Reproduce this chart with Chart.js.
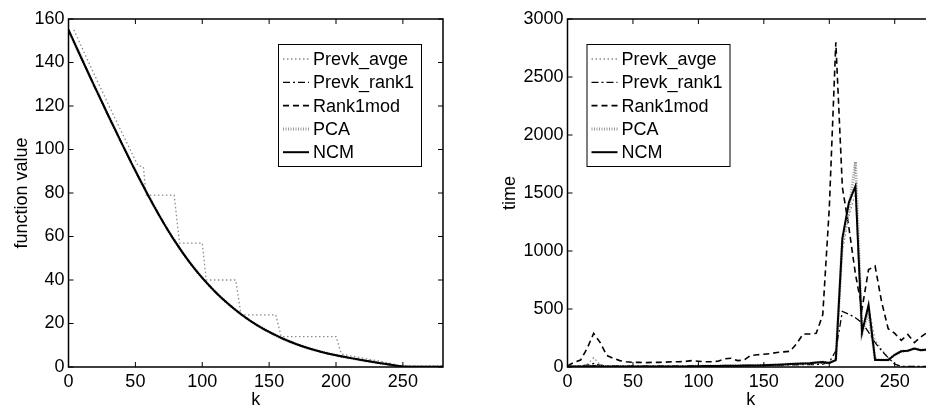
<!DOCTYPE html>
<html>
<head>
<meta charset="utf-8">
<script src="https://cdn.jsdelivr.net/npm/chart.js@4.4.1/dist/chart.umd.min.js"></script>
<style>
  html, body { margin: 0; padding: 0; background: #fff; overflow: hidden; width: 926px; height: 405px; }
  #left { position: absolute; left: 0; top: 0; }
  #right { position: absolute; left: 463px; top: 0; }
</style>
</head>
<body>
<canvas id="left" width="463" height="405"></canvas>
<canvas id="right" width="480" height="405"></canvas>
<script>
// Left panel: function value vs k
const leftK = [0, 10, 20, 30, 40, 50, 60, 70, 80, 90, 100, 110, 120, 130, 140, 150, 160, 170, 180, 190, 200, 210, 220, 230, 240, 250, 260, 270, 280];
const ncmLeft = [155, 141.5, 128.3, 115.3, 102.6, 90.2, 78.4, 67.4, 57.4, 48.6, 41, 34.4, 28.7, 23.8, 19.6, 16.1, 13.1, 10.6, 8.5, 6.8, 5.4, 4.2, 3.1, 2.1, 1.1, 0.2, 0.1, 0.1, 0.1];
// staircase of Prevk_avge
const stairK = [4, 14, 24, 34, 44, 52, 56, 58, 79, 83, 100, 103, 125, 129, 155, 159, 200, 204, 210, 220, 230, 240, 248, 280];
const stairV = [155, 141.5, 128.3, 115.3, 102.6, 92.5, 92, 79, 79, 57, 57, 40, 40, 24, 24, 14, 14, 6, 5.2, 4.1, 3, 1.8, 0.5, 0.5];

// Right panel: time vs k
const rightK = [0, 5, 10, 15, 20, 25, 30, 35, 40, 45, 50, 55, 60, 65, 70, 75, 80, 85, 90, 95,
  100, 105, 110, 115, 120, 125, 130, 135, 140, 145, 150, 155, 160, 165, 170, 175, 180, 185, 190, 195,
  200, 205, 210, 215, 220, 225, 230, 235, 240, 245, 250, 255, 260, 265, 270, 275, 280];
const avgeRight = [3, 3, 5, 20, 80, 20, 5, 5, 5, 5, 5, 5, 5, 5, 5, 5, 5, 5, 5, 5,
  6, 6, 7, 7, 8, 8, 9, 9, 10, 10, 12, 13, 15, 17, 20, 22, 25, 28, 30, 32,
  40, 60, 1000, 1300, 1500, 290, 520, 230, 150, 80, 25, 5, 5, 5, 5, 5, 5];
const rank1Right = [5, 5, 10, 15, 30, 15, 10, 10, 10, 10, 10, 10, 10, 10, 10, 10, 10, 10, 10, 10,
  10, 10, 10, 11, 11, 12, 12, 13, 13, 14, 15, 15, 16, 17, 18, 19, 20, 21, 22, 25,
  40, 140, 480, 455, 425, 380, 300, 210, 140, 80, 25, 5, 5, 5, 5, 5, 5];
const rank1modRight = [10, 40, 60, 160, 290, 210, 100, 75, 55, 45, 40, 40, 38, 40, 40, 42, 45, 45, 48, 55,
  50, 45, 45, 50, 70, 75, 55, 60, 100, 105, 110, 115, 125, 130, 135, 200, 285, 285, 290, 450,
  1370, 2800, 1550, 1200, 800, 500, 840, 870, 560, 330, 290, 230, 280, 210, 260, 300, 380];
const pcaRight = [5, 5, 5, 5, 8, 5, 5, 5, 5, 5, 5, 5, 5, 5, 5, 5, 5, 5, 5, 6,
  7, 8, 8, 9, 10, 10, 11, 12, 13, 14, 15, 17, 20, 22, 25, 27, 30, 32, 38, 42,
  35, 60, 1080, 1350, 1770, 290, 470, 70, 60, 60, 105, 135, 140, 160, 145, 150, 160];
const ncmRight = [5, 5, 5, 5, 8, 5, 5, 5, 5, 5, 5, 5, 5, 5, 5, 5, 5, 5, 5, 6,
  7, 8, 8, 9, 10, 10, 11, 12, 13, 14, 15, 17, 20, 22, 25, 27, 30, 32, 38, 42,
  35, 60, 1110, 1420, 1560, 300, 535, 60, 60, 60, 105, 135, 140, 160, 145, 150, 160];

const xTicks = [0, 50, 100, 150, 200, 250];

const FONT = '"Liberation Sans", Arial, Helvetica, sans-serif';
const FSIZE = 18;
Chart.defaults.color = '#000';
Chart.defaults.font.family = FONT;
Chart.defaults.font.size = FSIZE;

const pts = (ks, vs) => ks.map((k, i) => ({ x: k, y: vs[i] }));

// line styles, MATLAB-like
const styles = {
  avge:     { borderColor: '#8c8c8c', borderWidth: 1.3, borderDash: [1.5, 2.5] },
  rank1:    { borderColor: '#000', borderWidth: 1.3, borderDash: [7, 3, 2, 3] },
  rank1mod: { borderColor: '#000', borderWidth: 1.6, borderDash: [6, 4] },
  pca:      { borderColor: '#999', borderWidth: 3, borderDash: [1, 1.5] },
  ncm:      { borderColor: '#000', borderWidth: 2, borderDash: [] }
};

function makeSet(label, style, data, order, smooth) {
  return Object.assign({
    label: label,
    data: data,
    pointRadius: 0,
    fill: false,
    tension: 0,
    cubicInterpolationMode: smooth ? 'monotone' : 'default',
    order: order
  }, style);
}

// frame with inward ticks on all sides, plus a boxed legend inside the axes
const axisFrame = {
  id: 'axisFrame',
  afterDatasetsDraw(chart, args, opts) {
    const ctx = chart.ctx;
    const a = chart.chartArea;
    const x = chart.scales.x, y = chart.scales.y;
    ctx.save();
    ctx.strokeStyle = '#000';
    ctx.lineWidth = 1.5;
    ctx.strokeRect(a.left, a.top, a.right - a.left, a.bottom - a.top);
    ctx.lineWidth = 1;
    ctx.beginPath();
    x.ticks.forEach(t => {
      const px = x.getPixelForValue(t.value);
      ctx.moveTo(px, a.bottom); ctx.lineTo(px, a.bottom - 5);
      ctx.moveTo(px, a.top); ctx.lineTo(px, a.top + 5);
    });
    y.ticks.forEach(t => {
      const py = y.getPixelForValue(t.value);
      ctx.moveTo(a.left, py); ctx.lineTo(a.left + 5, py);
      ctx.moveTo(a.right, py); ctx.lineTo(a.right - 5, py);
    });
    ctx.stroke();

    // legend
    const w = 143, h = 122;
    const bx = opts.side === 'right' ? a.right - opts.dx - w : a.left + opts.dx;
    const by = a.top + opts.dy;
    ctx.fillStyle = '#fff';
    ctx.fillRect(bx, by, w, h);
    ctx.lineWidth = 1;
    ctx.strokeStyle = '#000';
    ctx.strokeRect(bx + 0.5, by + 0.5, w, h);
    ctx.font = FSIZE + 'px ' + FONT;
    ctx.textBaseline = 'middle';
    chart.data.datasets.forEach((ds, i) => {
      const ry = by + 15 + i * 23.3;
      ctx.beginPath();
      ctx.strokeStyle = ds.borderColor;
      ctx.lineWidth = ds.borderWidth;
      ctx.setLineDash(ds.borderDash);
      ctx.moveTo(bx + 5, ry);
      ctx.lineTo(bx + 31, ry);
      ctx.stroke();
      ctx.setLineDash([]);
      ctx.fillStyle = '#000';
      ctx.fillText(ds.label, bx + 35, ry + 1);
    });
    ctx.restore();
  }
};

function baseOptions(yMax, yStep, yTitle, yWidth, pad, legend) {
  return {
    responsive: false,
    animation: false,
    layout: { padding: pad },
    plugins: {
      legend: { display: false },
      tooltip: { enabled: false },
      axisFrame: legend
    },
    scales: {
      x: {
        type: 'linear', min: 0, max: 280,
        afterBuildTicks: s => { s.ticks = xTicks.map(v => ({ value: v })); },
        afterFit: s => { s.height = 38; },
        grid: { display: false, drawTicks: false },
        border: { display: false },
        ticks: { padding: 4, maxRotation: 0, font: { size: FSIZE }, callback: v => String(v) },
        title: { display: true, text: 'k', padding: { top: 0, bottom: -4 }, font: { size: FSIZE, lineHeight: 1 } }
      },
      y: {
        type: 'linear', min: 0, max: yMax,
        ticks: { stepSize: yStep, padding: 4, font: { size: FSIZE }, callback: v => String(v) },
        afterFit: s => { s.width = yWidth; },
        grid: { display: false, drawTicks: false },
        border: { display: false },
        title: { display: true, text: yTitle, padding: 0, font: { size: FSIZE } }
      }
    }
  };
}

new Chart(document.getElementById('left'), {
  type: 'line',
  data: {
    datasets: [
      makeSet('Prevk_avge', styles.avge, pts(stairK, stairV), 5, false),
      makeSet('Prevk_rank1', styles.rank1, pts(leftK, ncmLeft), 4, true),
      makeSet('Rank1mod', styles.rank1mod, pts(leftK, ncmLeft), 3, true),
      makeSet('PCA', styles.pca, pts(leftK, ncmLeft), 2, true),
      makeSet('NCM', styles.ncm, pts(leftK, ncmLeft), 1, true)
    ]
  },
  options: baseOptions(160, 20, 'function value', 57.5,
    { left: 11, top: 19, right: 20, bottom: 0 },
    { side: 'right', dx: 22, dy: 25 }),
  plugins: [axisFrame]
});

new Chart(document.getElementById('right'), {
  type: 'line',
  data: {
    datasets: [
      makeSet('Prevk_avge', styles.avge, pts(rightK, avgeRight), 5, false),
      makeSet('Prevk_rank1', styles.rank1, pts(rightK, rank1Right), 4, false),
      makeSet('Rank1mod', styles.rank1mod, pts(rightK, rank1modRight), 3, false),
      makeSet('PCA', styles.pca, pts(rightK, pcaRight), 2, false),
      makeSet('NCM', styles.ncm, pts(rightK, ncmRight), 1, false)
    ]
  },
  options: baseOptions(3000, 500, 'time', 68.5,
    { left: 36, top: 19, right: 9, bottom: 0 },
    { side: 'left', dx: 19, dy: 25 }),
  plugins: [axisFrame]
});
</script>
</body>
</html>
